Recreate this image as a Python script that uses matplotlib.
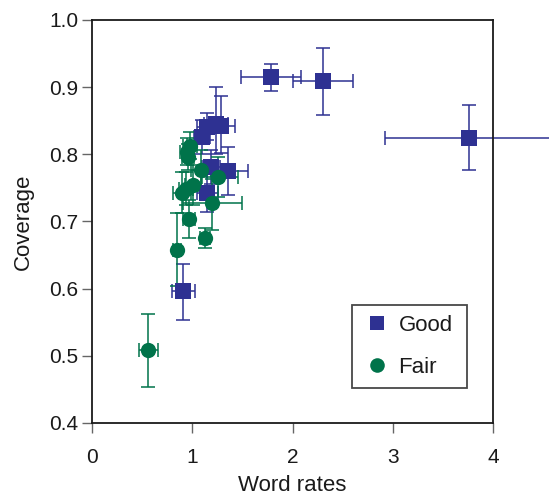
import numpy as np
import matplotlib.pyplot as plt
from matplotlib.lines import Line2D
from matplotlib.ticker import FormatStrFormatter

# Good speakers: word rate vs coverage, with error bars
good_x = [1.786, 2.304, 3.757, 0.907, 1.098, 1.15, 1.237, 1.29, 1.185, 1.359, 1.15]
good_y = [0.915, 0.909, 0.825, 0.596, 0.826, 0.841, 0.845, 0.842, 0.781, 0.775, 0.742]
good_xerr_lo = [0.30, 0.30, 0.83, 0.11, 0.08, 0.10, 0.12, 0.12, 0.09, 0.21, 0.10]
good_xerr_hi = [0.30, 0.30, 0.85, 0.12, 0.08, 0.10, 0.12, 0.14, 0.09, 0.20, 0.11]
good_yerr_lo = [0.020, 0.050, 0.049, 0.042, 0.025, 0.020, 0.045, 0.040, 0.025, 0.036, 0.028]
good_yerr_hi = [0.020, 0.050, 0.048, 0.041, 0.025, 0.020, 0.055, 0.045, 0.025, 0.036, 0.028]

# Fair speakers
fair_x = [0.56, 0.848, 0.97, 1.126, 1.20, 1.255, 1.088, 1.004, 0.90, 0.94, 0.96, 0.95, 0.977]
fair_y = [0.508, 0.658, 0.704, 0.676, 0.727, 0.766, 0.776, 0.754, 0.743, 0.749, 0.796, 0.804, 0.813]
fair_xerr_lo = [0.095, 0.04, 0.06, 0.05, 0.29, 0.16, 0.10, 0.08, 0.09, 0.07, 0.06, 0.07, 0.07]
fair_xerr_hi = [0.095, 0.04, 0.06, 0.05, 0.30, 0.20, 0.10, 0.08, 0.09, 0.07, 0.06, 0.07, 0.07]
fair_yerr_lo = [0.054, 0.054, 0.028, 0.015, 0.040, 0.030, 0.030, 0.030, 0.030, 0.025, 0.020, 0.020, 0.020]
fair_yerr_hi = [0.055, 0.054, 0.028, 0.015, 0.036, 0.030, 0.030, 0.030, 0.030, 0.025, 0.020, 0.020, 0.020]

blue = '#2e3192'
green = '#00734a'
ink = '#1a1a1a'

plt.rcParams['font.family'] = ['Liberation Sans', 'DejaVu Sans']

fig = plt.figure(figsize=(5.49, 4.97), dpi=100)
ax = fig.add_axes([0.1676, 0.1489, 0.7304, 0.8109])


def draw_series(x, y, xlo, xhi, ylo, yhi, color, marker, ms):
    cont = ax.errorbar(x, y, xerr=[xlo, xhi], yerr=[ylo, yhi], fmt=marker,
                       color=color, ms=ms, elinewidth=1.1, capsize=5.3,
                       capthick=1.1)
    data_line, caps, bars = cont.lines
    data_line.set_markeredgewidth(0)
    data_line.set_clip_on(False)
    for c in caps:
        c.set_clip_on(False)
    for b in bars:
        b.set_clip_on(False)


draw_series(good_x, good_y, good_xerr_lo, good_xerr_hi, good_yerr_lo, good_yerr_hi, blue, 's', 11.5)
draw_series(fair_x, fair_y, fair_xerr_lo, fair_xerr_hi, fair_yerr_lo, fair_yerr_hi, green, 'o', 11)

ax.set_xlim(0, 4)
ax.set_ylim(0.4, 1.0)
ax.set_xticks([0, 1, 2, 3, 4])
ax.set_yticks(np.arange(0.4, 1.01, 0.1))
ax.yaxis.set_major_formatter(FormatStrFormatter('%.1f'))
ax.tick_params(direction='out', length=7, width=1.0, color='#666666',
               labelcolor=ink, labelsize=15)
ax.tick_params(axis='x', pad=11)
ax.tick_params(axis='y', pad=3)
for s in ax.spines.values():
    s.set_linewidth(1.3)
    s.set_color(ink)

ax.set_xlabel('Word rates', fontsize=16, labelpad=6, color=ink)
ax.set_ylabel('Coverage', fontsize=16, labelpad=11, color=ink)

handles = [Line2D([], [], ls='none', marker='s', color=blue, ms=10, mew=0, label='Good'),
           Line2D([], [], ls='none', marker='o', color=green, ms=10.5, mew=0, label='Fair')]
leg = ax.legend(handles=handles, loc='lower left', bbox_to_anchor=(0.648, 0.087, 0.287, 0.206),
                mode='expand', fontsize=16, frameon=True, fancybox=False, borderpad=0.45,
                labelspacing=0.95, handletextpad=0.25, borderaxespad=0, handlelength=1.4,
                labelcolor=ink)
leg.get_frame().set_edgecolor(ink)
leg.get_frame().set_linewidth(1.3)

fig.savefig('out.png', dpi=100)
